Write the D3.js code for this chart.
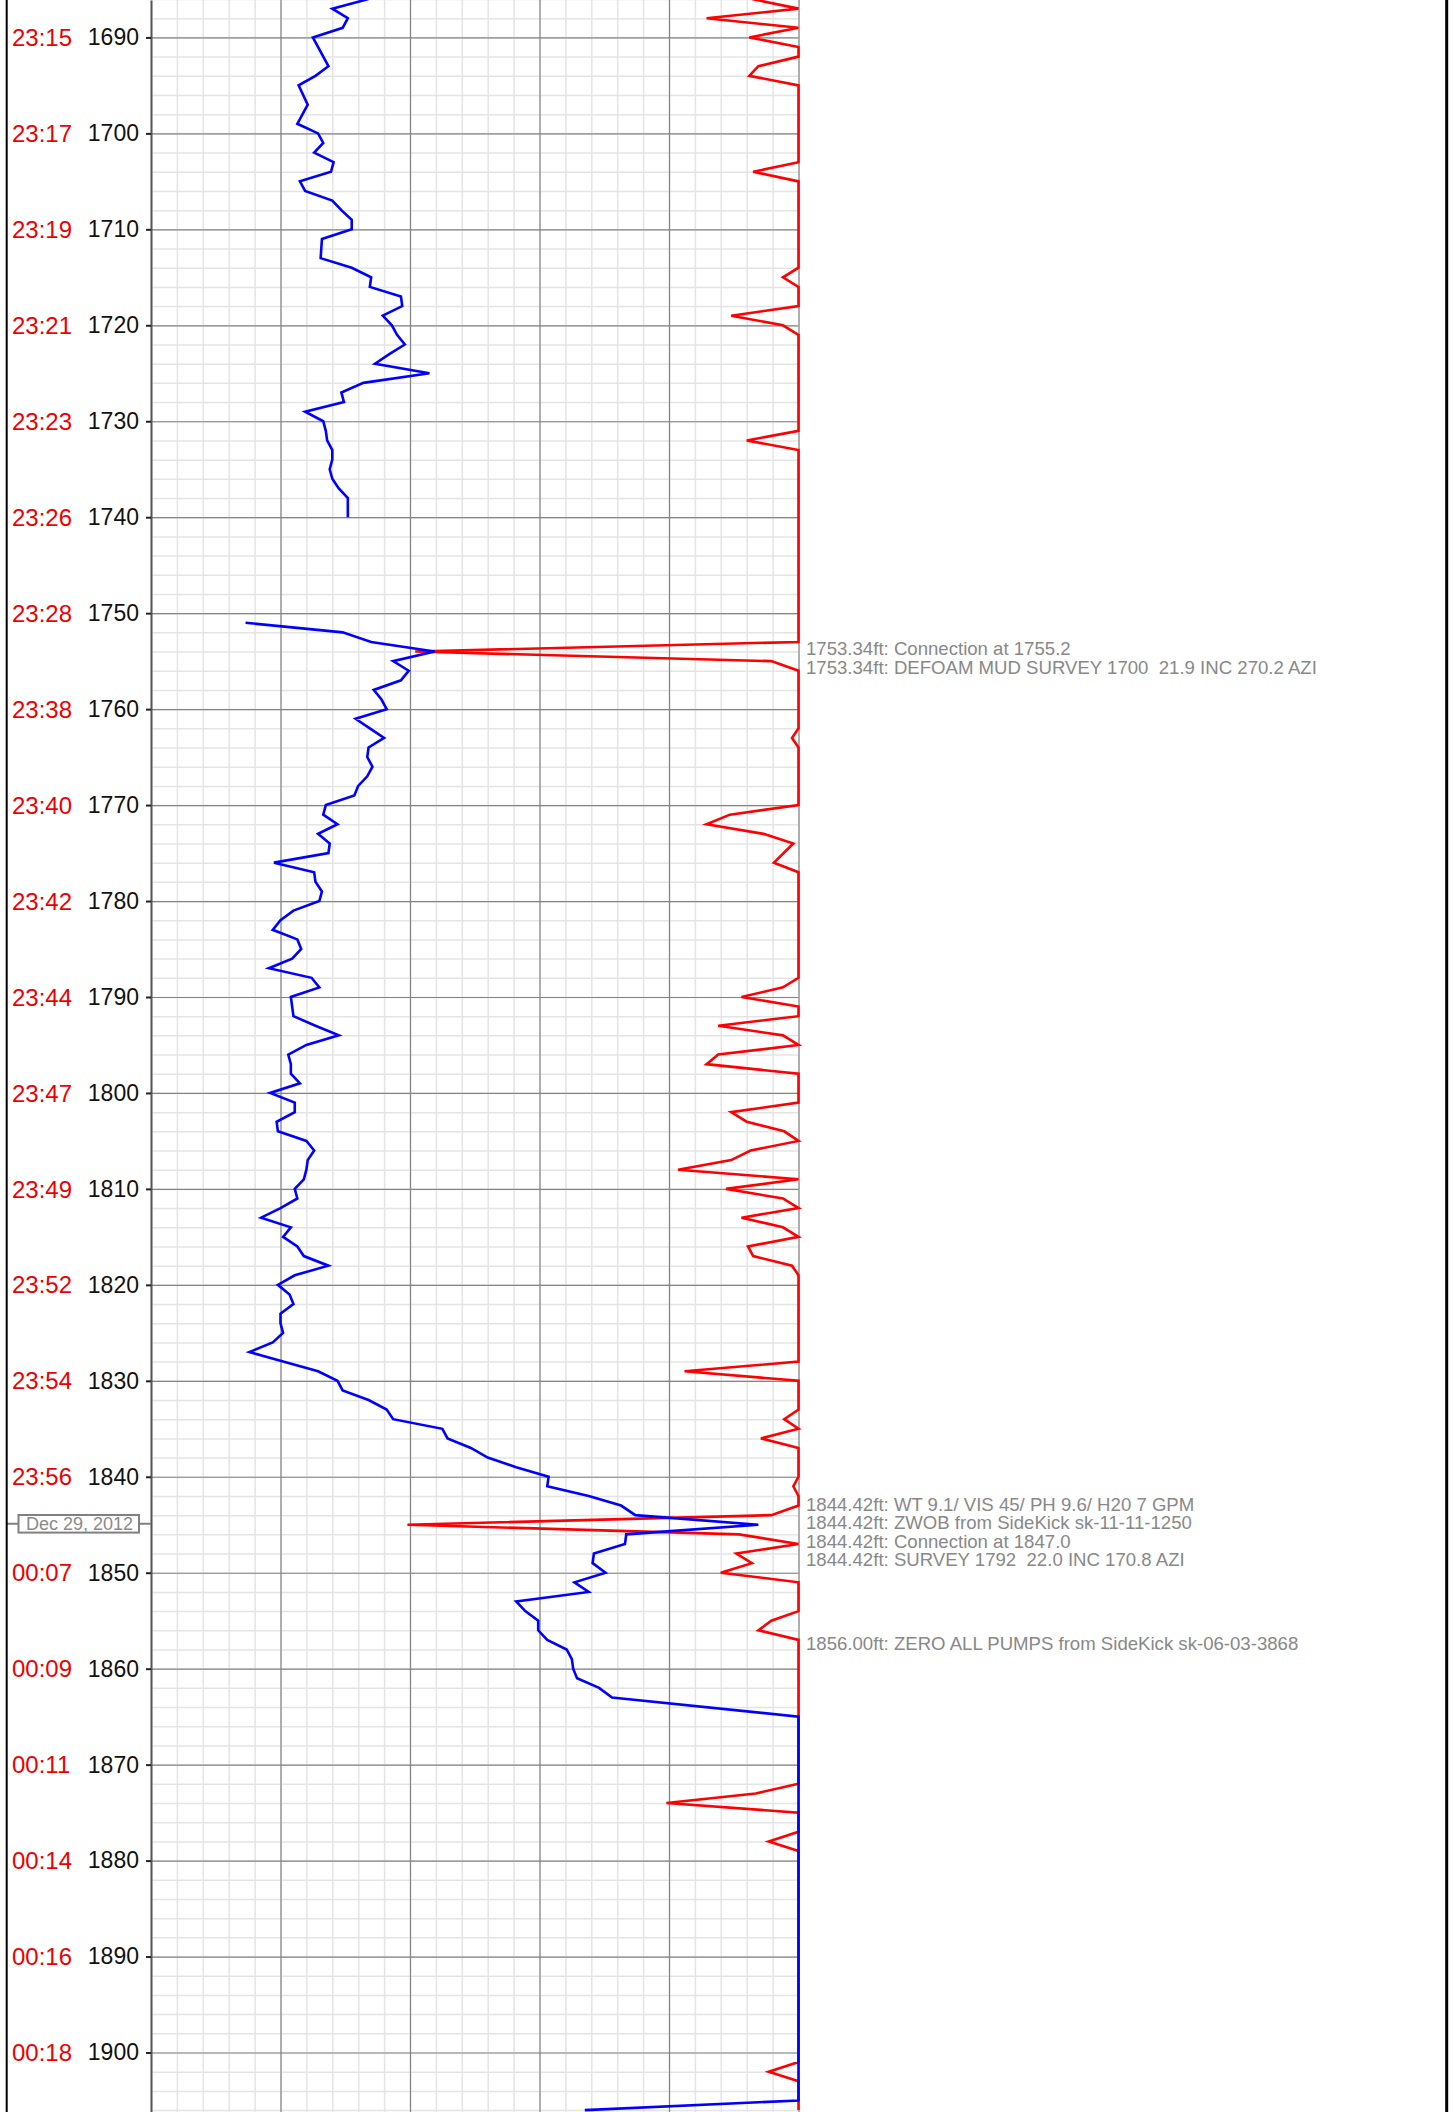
<!DOCTYPE html>
<html>
<head>
<meta charset="utf-8">
<script src="https://cdn.jsdelivr.net/npm/d3@7"></script>
<style>
body { margin: 0; background: #fff; }
text { font-family: "Liberation Sans", Arial, sans-serif; white-space: pre; }
</style>
</head>
<body>
<svg id="log" width="1453" height="2112"></svg>
<script>
// depth ticks (ft) and the clock time printed next to each
const depthTicks = [1690, 1700, 1710, 1720, 1730, 1740, 1750, 1760, 1770, 1780, 1790,
                    1800, 1810, 1820, 1830, 1840, 1850, 1860, 1870, 1880, 1890, 1900]
const timeLabels = ["23:15", "23:17", "23:19", "23:21", "23:23", "23:26", "23:28", "23:38",
                    "23:40", "23:42", "23:44", "23:47", "23:49", "23:52", "23:54", "23:56",
                    "00:07", "00:09", "00:11", "00:14", "00:16", "00:18"]

// blue curve, [depth, value] - two runs with a gap between them
const blueRun1 = [[1686, 16.8], [1687, 14.0], [1688, 15.2], [1689, 14.8], [1690, 12.5], [1693, 13.7],
  [1694, 12.7], [1695, 11.4], [1697, 12.1], [1699, 11.3], [1700, 12.9], [1701, 13.3], [1702, 12.6],
  [1703, 14.1], [1704, 13.9], [1705, 11.5], [1706, 11.9], [1707, 14.0], [1708, 14.7], [1709, 15.5],
  [1710, 15.5], [1711, 13.2], [1713, 13.1], [1714, 15.5], [1715, 17.0], [1716, 16.9], [1717, 19.3],
  [1718, 19.4], [1719, 17.9], [1720, 18.6], [1721, 19.0], [1722, 19.6], [1723, 18.4], [1724, 17.3],
  [1725, 21.5], [1726, 16.4], [1727, 14.7], [1728, 14.9], [1729, 11.9], [1730, 13.3], [1731, 13.5],
  [1732, 13.6], [1733, 14.0], [1734, 14.0], [1735, 13.8], [1736, 14.0], [1737, 14.5], [1738, 15.2],
  [1740, 15.2]]
const blueRun2 = [[1751, 7.3], [1752, 14.8], [1753, 17.0], [1754, 21.9], [1755, 18.7], [1756, 19.9],
  [1757, 19.3], [1758, 17.2], [1759, 17.8], [1760, 18.2], [1761, 15.8], [1762, 16.9], [1763, 18.0],
  [1764, 16.8], [1765, 16.7], [1766, 17.1], [1767, 16.7], [1768, 16.0], [1769, 15.7], [1770, 13.5],
  [1771, 13.3], [1772, 14.4], [1773, 12.9], [1774, 13.8], [1775, 13.7], [1776, 9.5], [1777, 12.6],
  [1778, 12.7], [1779, 13.2], [1780, 13.0], [1781, 11.0], [1782, 10.0], [1783, 9.4], [1784, 11.3],
  [1785, 11.6], [1786, 10.9], [1787, 9.1], [1788, 12.4], [1789, 13.0], [1790, 10.8], [1791, 10.9],
  [1792, 11.0], [1793, 12.7], [1794, 14.5], [1795, 12.0], [1796, 10.6], [1797, 10.8], [1798, 10.8],
  [1799, 11.5], [1800, 9.2], [1801, 11.1], [1802, 11.1], [1803, 9.7], [1804, 9.8], [1805, 12.0],
  [1806, 12.6], [1807, 12.1], [1808, 12.0], [1809, 11.8], [1810, 11.1], [1811, 11.3], [1812, 10.0],
  [1813, 8.5], [1814, 10.8], [1815, 10.2], [1816, 11.3], [1817, 11.8], [1818, 13.7], [1819, 11.1],
  [1820, 9.8], [1821, 10.7], [1822, 11.0], [1823, 10.0], [1824, 10.0], [1825, 10.2], [1826, 9.4],
  [1827, 7.6], [1828, 10.2], [1829, 12.9], [1830, 14.4], [1831, 14.8], [1832, 16.8], [1833, 18.2],
  [1834, 18.7], [1835, 22.5], [1836, 22.9], [1837, 24.7], [1838, 26.0], [1839, 28.2], [1840, 30.7],
  [1841, 30.6], [1842, 33.8], [1843, 36.3], [1844, 37.4], [1845, 46.9], [1846, 36.7], [1847, 36.6],
  [1848, 34.2], [1849, 34.1], [1850, 35.1], [1851, 32.7], [1852, 33.8], [1853, 28.2], [1854, 28.9],
  [1855, 29.9], [1856, 29.9], [1857, 30.6], [1858, 32.1], [1859, 32.5], [1860, 32.6], [1861, 32.9],
  [1862, 34.6], [1863, 35.6], [1865, 50], [1905, 50], [1906, 33.5]]

// red curve, [depth, value]
const redCurve = [[1686, 46.4], [1687, 50], [1688, 42.9], [1689, 50], [1690, 46.2], [1691, 50],
  [1692, 50], [1693, 46.9], [1694, 46.2], [1695, 50], [1703, 50], [1704, 46.5], [1705, 50],
  [1714, 50], [1715, 48.8], [1716, 50], [1718, 50], [1719, 44.8], [1720, 48.8], [1721, 50],
  [1731, 50], [1732, 46.0], [1733, 50], [1753, 50], [1754, 20.4], [1755, 47.9], [1756, 50],
  [1762, 50], [1763, 49.5], [1764, 50], [1770, 50], [1771, 44.7], [1772, 42.9], [1773, 47.3],
  [1774, 49.6], [1776, 48.1], [1777, 50], [1788, 50], [1789, 48.8], [1790, 45.6], [1791, 50],
  [1792, 50], [1793, 43.8], [1794, 48.8], [1795, 50], [1796, 43.8], [1797, 42.9], [1798, 50],
  [1801, 50], [1802, 44.8], [1803, 46.0], [1804, 48.9], [1805, 50], [1806, 46.3], [1807, 44.8],
  [1808, 40.7], [1809, 50], [1810, 44.4], [1811, 48.8], [1812, 50], [1813, 45.6], [1814, 48.8],
  [1815, 50], [1816, 46.1], [1817, 46.5], [1818, 49.5], [1819, 50], [1828, 50], [1829, 41.2],
  [1830, 50], [1833, 50], [1834, 48.9], [1835, 50], [1836, 47.1], [1837, 50], [1840, 50],
  [1841, 49.6], [1842, 50], [1843, 50], [1844, 47.9], [1845, 19.8], [1846, 45.4], [1847, 50],
  [1848, 45.2], [1849, 46.4], [1850, 44.0], [1851, 50], [1854, 50], [1855, 47.9], [1856, 46.9],
  [1857, 50], [1872, 50], [1873, 46.7], [1874, 39.8], [1875, 50], [1877, 50], [1878, 47.7],
  [1879, 50], [1901, 50], [1902, 47.7], [1903, 50], [1906, 50]]

// remarks printed at the right, by depth
const noteDepths = [1753.34, 1844.42, 1856.00]
const noteTexts = [
  ["Connection at 1755.2", "DEFOAM MUD SURVEY 1700  21.9 INC 270.2 AZI"],
  ["WT 9.1/ VIS 45/ PH 9.6/ H20 7 GPM", "ZWOB from SideKick sk-11-11-1250",
   "Connection at 1847.0", "SURVEY 1792  22.0 INC 170.8 AZI"],
  ["ZERO ALL PUMPS from SideKick sk-06-03-3868"]
]

// date change marker
const dateDepth = 1844.9
const dateLabel = "Dec 29, 2012"

const W = 1453, H = 2112
const plotLeft = 151, plotRight = 798.5

var svg = d3.select("#log")
svg.append("rect").attr("width", W).attr("height", H).attr("fill", "#fff")

const x = d3.scaleLinear().domain([0, 50]).range([plotLeft, plotRight])
const y = d3.scaleLinear().domain([1686.1, 1906.2]).range([0, H])

// minor grid
svg.append("g")
  .attr("transform", `translate(${plotLeft},0)`)
  .call(d3.axisLeft(y).tickValues(d3.range(1686, 1907, 2)).tickSize(-(plotRight - plotLeft)).tickFormat(""))
  .call(a => a.select(".domain").remove())
  .selectAll("line").attr("stroke", "#e4e4e4").attr("stroke-width", 1.5)

svg.append("g")
  .call(d3.axisTop(x).tickValues(d3.range(0, 51, 2)).tickSize(-H).tickFormat(""))
  .call(a => a.select(".domain").remove())
  .selectAll("line").attr("stroke", "#e4e4e4").attr("stroke-width", 1.5)

// major grid
svg.append("g")
  .attr("transform", `translate(${plotLeft},0)`)
  .call(d3.axisLeft(y).tickValues(depthTicks).tickSize(-(plotRight - plotLeft)).tickFormat(""))
  .call(a => a.select(".domain").remove())
  .selectAll("line").attr("stroke", "#858585").attr("stroke-width", 1.2)

svg.append("g")
  .call(d3.axisTop(x).tickValues(d3.range(10, 51, 10)).tickSize(-H).tickFormat(""))
  .call(a => a.select(".domain").remove())
  .selectAll("line").attr("stroke", "#858585").attr("stroke-width", 1.2)

// depth axis
const yAxis = svg.append("g")
  .attr("transform", `translate(${plotLeft},0)`)
  .call(d3.axisLeft(y).tickValues(depthTicks).tickFormat(d3.format("d"))
    .tickSize(5).tickSizeOuter(0).tickPadding(7))
yAxis.select(".domain").attr("stroke", "#555").attr("stroke-width", 2)
yAxis.selectAll(".tick line").attr("stroke", "#222").attr("stroke-width", 2)
yAxis.selectAll(".tick text")
  .attr("font-size", 23)
  .attr("font-family", "Liberation Sans, Arial, sans-serif")
  .attr("fill", "#111")

// time labels
svg.append("g").selectAll("text")
  .data(depthTicks)
  .join("text")
  .attr("x", 12)
  .attr("y", d => y(d))
  .attr("dy", "0.36em")
  .attr("font-size", 24)
  .attr("fill", "#ee0000")
  .text((d, i) => timeLabels[i])

// curves
const line = d3.line().x(d => x(d[1])).y(d => y(d[0]))

svg.append("path")
  .attr("d", line(redCurve))
  .attr("fill", "none")
  .attr("stroke", "#ff0000")
  .attr("stroke-width", 2.6)

svg.selectAll(".blue")
  .data([blueRun1, blueRun2])
  .join("path")
  .attr("class", "blue")
  .attr("d", line)
  .attr("fill", "none")
  .attr("stroke", "#0000ff")
  .attr("stroke-width", 2.6)

// remarks
const lineH = 18.6
noteDepths.forEach(function (dep, k) {
  const lines = noteTexts[k]
  const mid = y(dep) + 13
  svg.append("g").selectAll("text")
    .data(lines)
    .join("text")
    .attr("x", 806)
    .attr("y", (t, i) => mid + (i - (lines.length - 1) / 2) * lineH + 6.4)
    .attr("font-size", 18.6)
    .attr("fill", "#888")
    .text(t => d3.format(".2f")(dep) + "ft: " + t)
})

// date marker
const dy0 = y(dateDepth)
svg.append("line")
  .attr("x1", 7).attr("x2", plotLeft).attr("y1", dy0).attr("y2", dy0)
  .attr("stroke", "#808080").attr("stroke-width", 2)
svg.append("rect")
  .attr("x", 18.5).attr("y", dy0 - 8.8).attr("width", 120.5).attr("height", 17.6)
  .attr("fill", "#fff").attr("stroke", "#808080").attr("stroke-width", 2)
svg.append("text")
  .attr("x", 79.5).attr("y", dy0).attr("dy", "0.36em")
  .attr("text-anchor", "middle")
  .attr("font-size", 18)
  .attr("fill", "#8a8a8a")
  .text(dateLabel)

// outer frame lines
svg.append("line").attr("x1", 6.7).attr("x2", 6.7).attr("y1", 0).attr("y2", H)
  .attr("stroke", "#000").attr("stroke-width", 2)
svg.append("line").attr("x1", 1446.7).attr("x2", 1446.7).attr("y1", 0).attr("y2", H)
  .attr("stroke", "#000").attr("stroke-width", 3)
</script>
</body>
</html>
